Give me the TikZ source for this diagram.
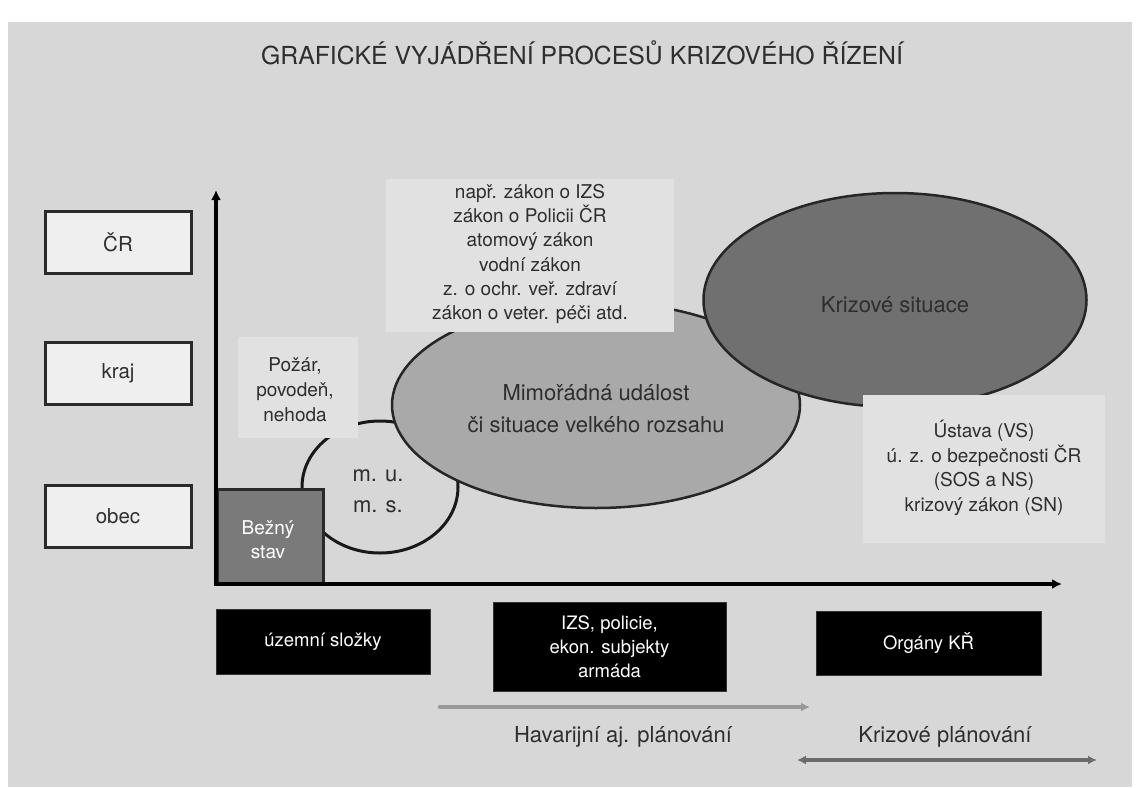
\documentclass[tikz,border=0pt]{standalone}
\usepackage{fontspec}
\setmainfont{TeX Gyre Heros}
\usetikzlibrary{shapes.geometric,arrows.meta}
\definecolor{bg}{HTML}{D7D7D7}
\definecolor{panel}{HTML}{E1E1E1}
\definecolor{levelfill}{HTML}{EFEFEF}
\definecolor{edge}{HTML}{2A2A2A}
\definecolor{mufill}{HTML}{A9A9A9}
\definecolor{ksfill}{HTML}{707070}
\definecolor{basefill}{HTML}{7A7A7A}
\tikzset{
  txt/.style={font={\fontsize{19}{24.3}\selectfont}, align=center, text=black!82, inner sep=0pt},
  big/.style={font={\fontsize{22}{31}\selectfont}, align=center, text=black!82, inner sep=0pt},
  levelbox/.style={draw=edge, line width=3pt, fill=levelfill, minimum width=146pt, minimum height=62pt, inner sep=0pt, font={\fontsize{20.5}{24}\selectfont}, text=black!82},
  actor/.style={fill=black, draw=black!80, line width=1pt, inner sep=0pt, align=center, text=white, font={\fontsize{18.5}{24}\selectfont}},
  notebox/.style={fill=panel, inner sep=0pt},
  zone/.style={ellipse, draw=black!85, line width=2.5pt, inner sep=0pt},
  axis/.style={line width=4pt, black, -{Latex[length=10pt,width=10pt]}},
  planarrow/.style={line width=4.5pt, line cap=round}
}
\begin{document}
\begin{tikzpicture}[x=1pt,y=-1pt]
\useasboundingbox (0,0) rectangle (1139,787);
\fill[white] (0,0) rectangle (1139,787);
\fill[bg] (8,22) rectangle (1132,787);

% title
\node[font={\fontsize{24.8}{28}\selectfont}, text=black!82] (title) at (582,53) {GRAFICKÉ VYJÁDŘENÍ PROCESŮ KRIZOVÉHO ŘÍZENÍ};

% levels of administration
\node[levelbox] (cr) at (118,242) {ČR};
\node[levelbox] (kraj) at (118,373) {kraj};
\node[levelbox] (obec) at (118,516) {obec};

% minor events circle
\node[zone, fill=bg, line width=3pt, draw=black!90, minimum width=156pt, minimum height=132pt] (mu) at (380,487) {};
\node[big] at (378,491) {m. u.\\m. s.};

% routine state
\node[draw=edge, line width=3pt, fill=basefill, minimum width=106pt, minimum height=94pt, inner sep=0pt] (bezny) at (270,536) {};
\node[txt, text=white] at (268,540) {Bežný\\stav};

% extraordinary event and crisis situation
\node[zone, fill=mufill, minimum width=408pt, minimum height=206pt] (mu2) at (596,405) {};
\node[zone, fill=ksfill, minimum width=383pt, minimum height=214pt] (ks) at (895,300) {};
\node[big, font={\fontsize{22}{28}\selectfont}] at (895,305) {Krizové situace};
\node[big, font={\fontsize{22}{32}\selectfont}] at (596,409) {Mimořádná událost\\či situace velkého rozsahu};

% legal notes
\node[notebox, minimum width=120pt, minimum height=101pt] (pozarbox) at (298,387.5) {};
\node[txt, font={\fontsize{19}{25}\selectfont}] (pozar) at (295,390) {Požár,\\povodeň,\\nehoda};
\node[notebox, minimum width=288pt, minimum height=153pt] (zakonybox) at (530,255.5) {};
\node[txt] (zakony) at (530,254) {např. zákon o IZS\\zákon o Policii ČR\\atomový zákon\\vodní zákon\\z. o ochr. veř. zdraví\\zákon o veter. péči atd.};
\node[notebox, minimum width=242pt, minimum height=148pt] (ustavabox) at (984,469) {};
\node[txt, font={\fontsize{19}{24.5}\selectfont}] (ustava) at (984,468) {Ústava (VS)\\ú. z. o bezpečnosti ČR\\(SOS a NS)\\krizový zákon (SN)};

% axes
\coordinate (O) at (216,584);
\coordinate (ytop) at (216,190);
\coordinate (xend) at (1062,584);
\draw[axis] ([yshift=2pt]O) -- (ytop);
\draw[axis] ([xshift=-2pt]O) -- (xend);

% actors
\node[actor, minimum width=214pt, minimum height=65pt] (uzemni) at (323,641.5) {územní složky};
\node[actor, minimum width=233pt, minimum height=89pt] (izs) at (609.5,646.5) {IZS, policie,\\ekon. subjekty\\armáda};
\node[actor, minimum width=225pt, minimum height=64pt] (organy) at (928.5,643) {Orgány KŘ};

% planning
\coordinate (hava) at (440,707);
\coordinate (havb) at (810,707);
\draw[planarrow, black!40, -{Latex[length=9pt,width=9pt]}] (hava) -- (havb);
\node[font={\fontsize{22}{26}\selectfont}, text=black!82] (havar) at (623,737) {Havarijní aj. plánování};
\coordinate (kpa) at (797,760);
\coordinate (kpb) at (1097,760);
\draw[planarrow, black!58, {Latex[length=9pt,width=9pt]}-{Latex[length=9pt,width=9pt]}] (kpa) -- (kpb);
\node[font={\fontsize{22}{26}\selectfont}, text=black!82] (krizpl) at (945,737) {Krizové plánování};
\end{tikzpicture}
\end{document}
